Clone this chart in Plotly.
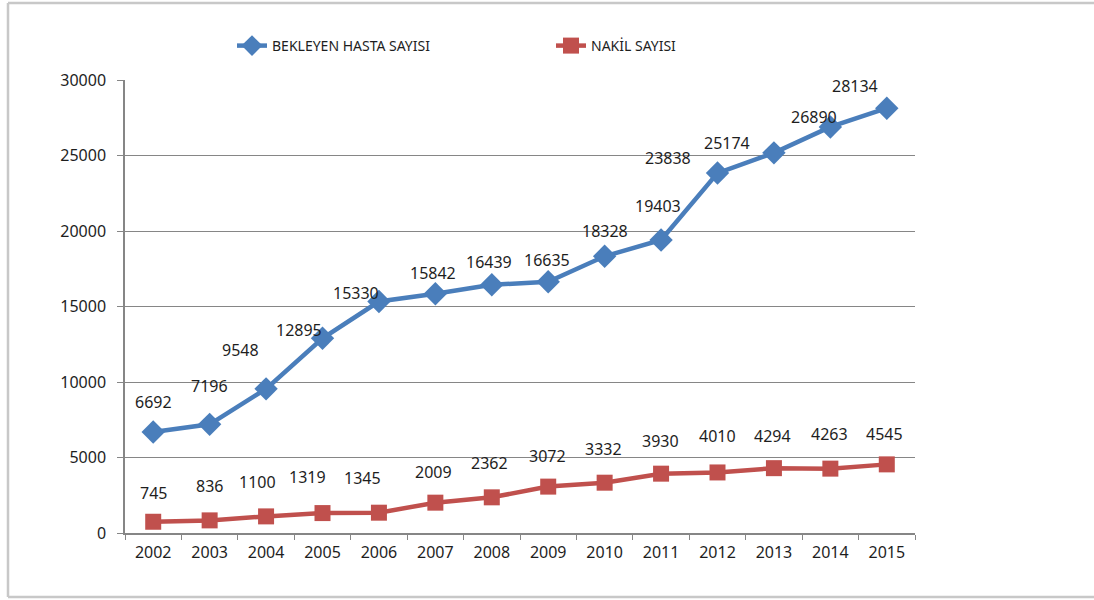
import plotly.graph_objects as go

years = ["2002", "2003", "2004", "2005", "2006", "2007", "2008", "2009",
         "2010", "2011", "2012", "2013", "2014", "2015"]
bekleyen = [6692, 7196, 9548, 12895, 15330, 15842, 16439, 16635,
            18328, 19403, 23838, 25174, 26890, 28134]
nakil = [745, 836, 1100, 1319, 1345, 2009, 2362, 3072,
         3332, 3930, 4010, 4294, 4263, 4545]
y_ticks = [0, 5000, 10000, 15000, 20000, 25000, 30000]

# label offsets (pixels) relative to each point
blue_dx = [0, 0, -26, -24, -23, -2, -3, -1, 0, -3, -50, -47, -16, -32]
blue_dy = [30, 38, 39, 8, 9, 21, 23, 22, 25, 34, 15, 10, 10, 22]
red_dx = [0, 0, -9, -15, -16, -2, -2, -1, -1, -1, 0, -1, -1, -2]
red_dy = [29, 34, 34, 36, 35, 31, 34, 31, 34, 33, 36, 32, 35, 30]

BLUE = "#4A7EBB"
RED = "#C0504D"
TXT = "#1E1E1E"
FONT = "Noto Sans"

W, H = 1094, 600
ML, MT = 125, 80
MR = W - 915
MB = H - 533
PW, PH = W - ML - MR, H - MT - MB

fig = go.Figure()
fig.add_trace(go.Scatter(
    x=years, y=bekleyen, name="BEKLEYEN HASTA SAYISI", mode="lines+markers",
    line=dict(color=BLUE, width=4.5),
    marker=dict(symbol="diamond", size=18, color=BLUE),
))
fig.add_trace(go.Scatter(
    x=years, y=nakil, name="NAKİL SAYISI", mode="lines+markers",
    line=dict(color=RED, width=4.5),
    marker=dict(symbol="square", size=16, color=RED),
))

for i in range(len(years)):
    fig.add_annotation(x=i, y=bekleyen[i], xref="x", yref="y",
                       text=str(bekleyen[i]), showarrow=False,
                       xshift=blue_dx[i], yshift=blue_dy[i],
                       font=dict(family=FONT, size=16, color=TXT))
    fig.add_annotation(x=i, y=nakil[i], xref="x", yref="y",
                       text=str(nakil[i]), showarrow=False,
                       xshift=red_dx[i], yshift=red_dy[i],
                       font=dict(family=FONT, size=16, color=TXT))

def px_x(p):
    return (p - ML) / PW

def px_y(p):
    return (H - MB - p) / PH

border = dict(color="#C8C8C8", width=2.5)
fig.add_shape(type="line", xref="paper", yref="paper",
              x0=px_x(8), x1=px_x(1094), y0=px_y(3), y1=px_y(3), line=border)
fig.add_shape(type="line", xref="paper", yref="paper",
              x0=px_x(8), x1=px_x(8), y0=px_y(3), y1=px_y(597), line=border)
fig.add_shape(type="line", xref="paper", yref="paper",
              x0=px_x(8), x1=px_x(1094), y0=px_y(597), y1=px_y(597), line=border)

fig.update_layout(
    width=W, height=H,
    margin=dict(l=ML, r=MR, t=MT, b=MB),
    paper_bgcolor="white", plot_bgcolor="white",
    font=dict(family=FONT, color=TXT),
    showlegend=True,
    legend=dict(orientation="h", x=px_x(232), xanchor="left", y=px_y(46), yanchor="middle",
                entrywidth=274, entrywidthmode="pixels",
                font=dict(family=FONT, size=14, color=TXT), bgcolor="rgba(0,0,0,0)"),
    xaxis=dict(type="category", range=[-0.5, len(years) - 0.5],
               showline=True, linecolor="#868686", linewidth=1.5,
               ticks="outside", tickson="boundaries", ticklen=5, tickcolor="#868686",
               ticklabelstandoff=4,
               showgrid=False, tickfont=dict(family=FONT, size=16, color=TXT)),
    yaxis=dict(range=[0, 30000], tickvals=y_ticks, ticktext=[str(v) for v in y_ticks],
               showline=True, linecolor="#868686", linewidth=1.5,
               ticks="outside", ticklen=6, tickcolor="#868686",
               ticklabelstandoff=8,
               showgrid=True, gridcolor="#868686", gridwidth=1.2,
               zeroline=False, tickfont=dict(family=FONT, size=16, color=TXT)),
)

fig.write_html(
    "out.html",
    config={"displayModeBar": False},
    post_script="document.body.style.margin='0';document.body.style.overflow='hidden';",
)
